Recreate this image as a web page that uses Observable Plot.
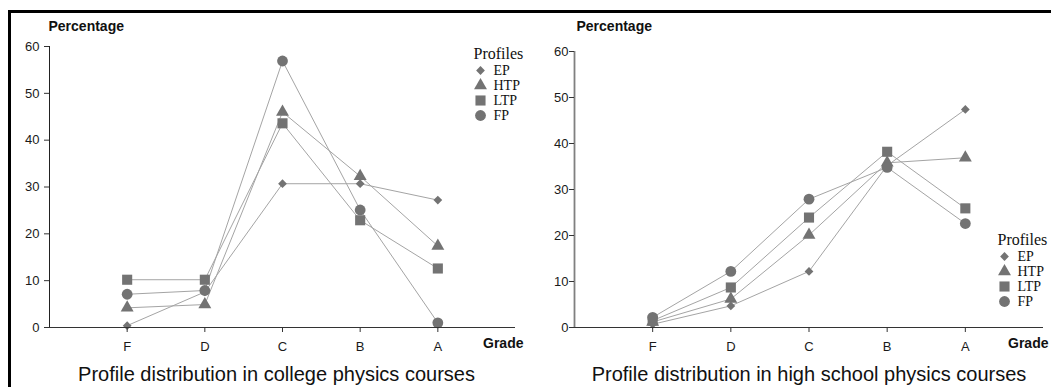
<!DOCTYPE html>
<html><head><meta charset="utf-8">
<script src="https://cdn.jsdelivr.net/npm/d3@7"></script>
<script src="https://cdn.jsdelivr.net/npm/@observablehq/plot@0.6"></script>
<style>
body{margin:0;background:#fff;}
#wrap{position:relative;width:1051px;height:387px;overflow:hidden;font-family:"Liberation Sans",Arial,sans-serif;background:#fff;}
#frame{position:absolute;left:8px;top:10px;width:1100px;height:400px;border-top:3px solid #000;border-left:3px solid #000;}
.panel{position:absolute;top:0;}
.panel svg{max-width:none !important;}
.title{position:absolute;top:364px;font-size:20px;line-height:20px;color:#111;text-align:center;white-space:nowrap;width:600px;}
</style></head><body>
<div id="wrap"><div id="frame"></div></div>
<script>
// ---- data ----
const grades = ["F", "D", "C", "B", "A"];
const profiles = ["EP", "HTP", "LTP", "FP"];
const yTicks = [0, 10, 20, 30, 40, 50, 60];

const collegeEP  = [0.4, 7.6, 30.7, 30.7, 27.2];
const collegeHTP = [4.2, 4.9, 46.0, 32.3, 17.4];
const collegeLTP = [10.2, 10.2, 43.6, 22.9, 12.6];
const collegeFP  = [7.1, 7.9, 56.9, 25.1, 1.0];

const highEP  = [0.7, 4.7, 12.2, 35.2, 47.4];
const highHTP = [1.2, 6.2, 20.1, 35.8, 36.9];
const highLTP = [1.5, 8.7, 23.9, 38.2, 25.9];
const highFP  = [2.2, 12.2, 27.9, 34.8, 22.6];

const titles = ["Profile distribution in college physics courses",
                "Profile distribution in high school physics courses"];
const yLabel = "Percentage";
const xLabel = "Grade";
const legendTitle = "Profiles";

// ---- styles ----
const sym = {
  EP:  {symbol: "square", r: 3.5, rotate: 45},
  HTP: {symbol: "triangle", r: 4.8, rotate: 0},
  LTP: {symbol: "square", r: 5.7, rotate: 0},
  FP:  {symbol: "circle", r: 5.4, rotate: 0}
};
const markerFill = "#737373";
const lineStroke = "#a4a4a4";
const font = "'Liberation Sans', Arial, sans-serif";
const serif = "'Liberation Serif', 'Times New Roman', serif";

function toRows(series) {
  return profiles.flatMap((p, i) => grades.map((g, j) => ({profile: p, grade: g, gi: j + 1, value: series[i][j]})));
}

function chart(series, o) {
  const data = toRows(series);
  const svg = Plot.plot({
    width: o.width, height: 350,
    marginLeft: 49, marginRight: o.marginRight, marginTop: o.marginTop, marginBottom: 23,
    x: {domain: [0, 6]},
    y: {domain: [0, 60]},
    style: {fontFamily: font, fontSize: "13px", color: "#1a1a1a", background: "none", overflow: "visible"},
    marks: [
      Plot.line(data, {x: "gi", y: "value", z: "profile", stroke: lineStroke, strokeWidth: 1}),
      ...profiles.map(p => Plot.dot(data.filter(d => d.profile === p), {
        x: "gi", y: "value", fill: markerFill, stroke: "none",
        symbol: sym[p].symbol, r: sym[p].r, rotate: sym[p].rotate
      })),
      Plot.ruleY([0], {stroke: "#333", strokeWidth: 1}),
      Plot.ruleX([0], {stroke: o.yAxisColor, strokeWidth: o.yAxisWidth}),
      Plot.axisY({ticks: yTicks, tickSize: 5, tickPadding: o.tickPadding, label: null, stroke: "#333"}),
      Plot.axisX({ticks: [1, 2, 3, 4, 5], tickFormat: i => grades[i - 1], tickSize: 5, tickPadding: 9, label: null, stroke: "#333"}),
      Plot.text([yLabel], {frameAnchor: "top-left", textAnchor: "start", lineAnchor: "middle", dx: o.ylDx, dy: o.ylDy,
        fontSize: 14, fontWeight: "bold", fill: "#111", ariaLabel: "axislabel"}),
      Plot.text([xLabel], {frameAnchor: "bottom-right", textAnchor: "end", lineAnchor: "middle", dx: o.xlDx, dy: 16,
        fontSize: 14, fontWeight: "bold", fill: "#111", ariaLabel: "axislabel"})
    ]
  });
  d3.select(svg).selectAll('g[aria-label="axislabel"] text').style("letter-spacing", "0.9px");
  return svg;
}

function legend() {
  const rows = profiles.map(p => ({profile: p}));
  const svg = Plot.plot({
    width: 70, height: 86, margin: 0,
    x: {domain: [0, 1], range: [10, 23], axis: null},
    y: {type: "point", domain: profiles, range: [29, 75], padding: 0, axis: null},
    style: {fontFamily: serif, background: "none", overflow: "visible"},
    marks: [
      ...profiles.map(p => Plot.dot(rows.filter(d => d.profile === p), {
        x: () => 0, y: "profile", fill: markerFill, stroke: "none",
        symbol: sym[p].symbol, r: sym[p].r, rotate: sym[p].rotate
      })),
      Plot.text(rows, {x: () => 1, y: "profile", text: "profile", textAnchor: "start", lineAnchor: "middle", fontSize: 14, fill: "#111", fontFamily: serif}),
      Plot.text([legendTitle], {frameAnchor: "top-left", textAnchor: "start", lineAnchor: "middle", dx: 3, dy: 13, fontSize: 16, fill: "#111", fontFamily: serif})
    ]
  });
  return svg;
}

const wrap = document.getElementById("wrap");
function place(el, left, top) {
  const d = document.createElement("div");
  d.className = "panel";
  d.style.left = left + "px";
  d.style.top = top + "px";
  d.appendChild(el);
  wrap.appendChild(d);
  return d;
}

place(chart([collegeEP, collegeHTP, collegeLTP, collegeFP],
  {width: 530, marginRight: 15, marginTop: 46, yAxisColor: "#222", yAxisWidth: 1, tickPadding: 5, ylDx: -1, ylDy: -20, xlDx: 8}), 0, 0);
place(chart([highEP, highHTP, highLTP, highFP],
  {width: 526, marginRight: 8, marginTop: 51, yAxisColor: "#808080", yAxisWidth: 1.8, tickPadding: 1, ylDx: 2, ylDy: -25, xlDx: 5}), 525, 0);

place(legend(), 470, 40);
place(legend(), 994, 226);

titles.forEach((t, i) => {
  const d = document.createElement("div");
  d.className = "title";
  d.textContent = t;
  d.style.left = ([276.5, 809][i] - 300) + "px";
  wrap.appendChild(d);
});
</script>
</body></html>
